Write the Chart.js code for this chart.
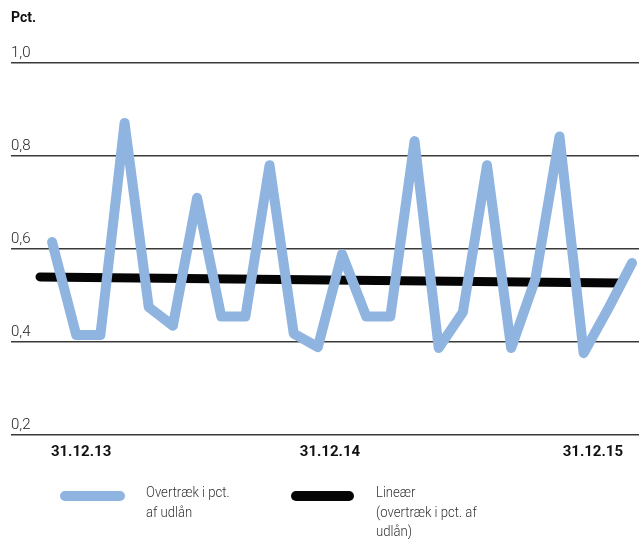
<!DOCTYPE html>
<html>
<head>
<meta charset="utf-8">
<script src="https://cdn.jsdelivr.net/npm/chart.js@4.4.1/dist/chart.umd.min.js"></script>
<style>
  html, body { margin: 0; padding: 0; background: #fff; }
  #wrap { position: relative; width: 639px; height: 539px; overflow: hidden; }
  #c { position: absolute; left: 0; top: 0; }
  .key { position: absolute; height: 10px; border-radius: 5px; }
  .txt { position: absolute; font-family: Roboto, sans-serif; font-weight: 300;
         font-size: 15px; line-height: 19.5px; color: #333; white-space: nowrap;
         transform: scaleX(0.875); transform-origin: left top; }
</style>
</head>
<body>
<div id="wrap">
  <canvas id="c" width="639" height="539"></canvas>
  <div class="key" style="left:60px; top:491px; width:65px; background:#8fb4e0;"></div>
  <div class="txt" style="left:146px; top:483px;">Overtræk i pct.<br>af udlån</div>
  <div class="key" style="left:291px; top:491px; width:63px; background:#050505;"></div>
  <div class="txt" style="left:376px; top:483px;">Lineær<br>(overtræk i pct. af<br>udlån)</div>
</div>
<script>
// Month-end overdraft ratio, Dec 2013 – Dec 2015 (pct. of lending)
const overtraek = [0.615, 0.415, 0.415, 0.871, 0.475, 0.435, 0.71, 0.455, 0.455, 0.78,
                   0.418, 0.389, 0.589, 0.455, 0.455, 0.832, 0.387, 0.464, 0.78, 0.387,
                   0.535, 0.842, 0.376, 0.47, 0.57];
// Linear trend, start and end values
const trendValues = [0.540, 0.527];
// Month index of trend start and end
const trendIndex = [-0.5, 23.5];
// Date labels along the bottom and the month index they sit at
const tickLabels = ['31.12.13', '31.12.14', '31.12.15'];
const tickIndex = [1.2, 11.5, 22.38];
const yTicks = [0.2, 0.4, 0.6, 0.8, 1.0];

const blue = '#8fb4e0';

const titlePlugin = {
  id: 'pctTitle',
  afterDraw(chart) {
    const ctx = chart.ctx;
    ctx.save();
    ctx.font = 'bold 14px Roboto, sans-serif';
    ctx.fillStyle = '#111';
    ctx.textBaseline = 'alphabetic';
    ctx.textAlign = 'left';
    ctx.fillText('Pct.', 11, 22);
    ctx.restore();
  }
};

new Chart(document.getElementById('c'), {
  type: 'line',
  data: {
    datasets: [
      {
        label: 'Overtræk i pct. af udlån',
        data: overtraek.map((v, i) => ({ x: i, y: v })),
        borderColor: blue,
        borderWidth: 10,
        borderCapStyle: 'round',
        borderJoinStyle: 'round',
        pointRadius: 0,
        tension: 0,
        fill: false
      },
      {
        label: 'Lineær (overtræk i pct. af udlån)',
        data: trendValues.map((v, i) => ({ x: trendIndex[i], y: v })),
        borderColor: '#050505',
        borderWidth: 9,
        borderCapStyle: 'round',
        pointRadius: 0,
        tension: 0,
        fill: false
      }
    ]
  },
  options: {
    responsive: false,
    animation: false,
    events: [],
    layout: { padding: { left: 11, right: 0, top: 63, bottom: 0 } },
    plugins: { legend: { display: false }, tooltip: { enabled: false }, title: { display: false } },
    scales: {
      x: {
        type: 'linear',
        min: -1.7,
        max: 24.29,
        grid: { display: false },
        border: { display: false },
        afterBuildTicks(scale) {
          scale.ticks = tickIndex.map(v => ({ value: v }));
        },
        afterFit(scale) { scale.height = 104; },
        ticks: {
          autoSkip: false,
          maxRotation: 0,
          padding: 0,
          color: '#111',
          font: { family: 'Roboto, sans-serif', size: 15, weight: 'bold' },
          callback: (v, i) => tickLabels[i]
        }
      },
      y: {
        min: 0.2,
        max: 1.0,
        afterBuildTicks(scale) {
          scale.ticks = yTicks.map(v => ({ value: v }));
        },
        afterFit(scale) { scale.width = 0; },
        grid: {
          color: '#3a3a3a',
          lineWidth: 1.6,
          drawTicks: false
        },
        border: { display: false },
        ticks: {
          mirror: true,
          padding: 0,
          labelOffset: -10,
          color: '#222',
          font: { family: 'Roboto, sans-serif', size: 15, weight: '300' },
          callback: v => v.toFixed(1).replace('.', ',')
        }
      }
    }
  },
  plugins: [titlePlugin]
});
</script>
</body>
</html>
